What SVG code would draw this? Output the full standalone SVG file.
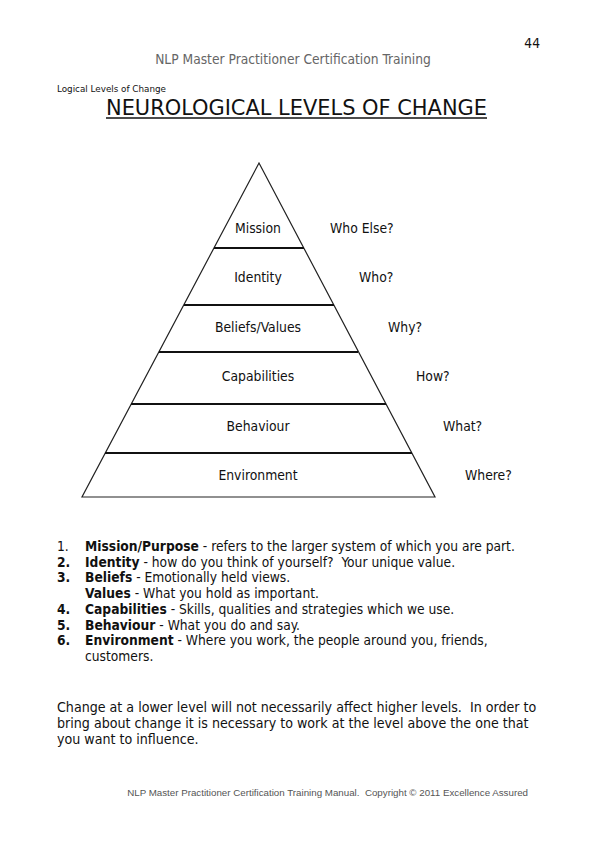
<svg xmlns="http://www.w3.org/2000/svg" width="595" height="841" viewBox="0 0 595 841">
<style>
.t{font-family:"DejaVu Sans","Liberation Sans",sans-serif;font-stretch:condensed;fill:#111}
.lbl{font-size:13.8px;text-anchor:middle}
.q{font-size:13.8px}
.body{font-size:13.7px}
.para{font-size:14.1px}
.b{font-weight:bold}
.hdr{font-family:"DejaVu Sans","Liberation Sans",sans-serif;font-stretch:condensed;font-size:13.7px;fill:#666}
.foot{font-family:"Liberation Sans",Arial,sans-serif;font-size:9.75px;fill:#555}
.edge{fill:none;stroke:#222;stroke-width:1.2}
.div{stroke:#111;stroke-width:2}
</style>
<rect width="595" height="841" fill="#fff"/>
<text class="t" x="540" y="48" text-anchor="end" font-size="13.7">44</text>
<text class="hdr" x="293" y="64" text-anchor="middle">NLP Master Practitioner Certification Training</text>
<text class="t" x="57" y="92" font-size="8.8" textLength="109" lengthAdjust="spacingAndGlyphs">Logical Levels of Change</text>
<text class="t" x="106" y="115" font-size="21.5" textLength="381" lengthAdjust="spacingAndGlyphs">NEUROLOGICAL LEVELS OF CHANGE</text>
<line x1="106" y1="118" x2="487" y2="118" stroke="#111" stroke-width="1.6"/>

<g id="pyramid">
<polygon class="edge" points="259,163 82,497 435,497"/>
</g>
<g id="dividers">
<line class="div" x1="214" y1="248" x2="304" y2="248"/>
<line class="div" x1="184" y1="305" x2="334" y2="305"/>
<line class="div" x1="159" y1="352" x2="358" y2="352"/>
<line class="div" x1="131" y1="404" x2="386" y2="404"/>
<line class="div" x1="105" y1="453" x2="412" y2="453"/>
</g>
<g id="level-mission"><text class="t lbl" x="258" y="233">Mission</text><text class="t q" x="330" y="233">Who Else?</text></g>
<g id="level-identity"><text class="t lbl" x="258" y="282">Identity</text><text class="t q" x="359" y="282">Who?</text></g>
<g id="level-beliefs"><text class="t lbl" x="258" y="332">Beliefs/Values</text><text class="t q" x="388" y="332">Why?</text></g>
<g id="level-capabilities"><text class="t lbl" x="258" y="381">Capabilities</text><text class="t q" x="416" y="381">How?</text></g>
<g id="level-behaviour"><text class="t lbl" x="258" y="431">Behaviour</text><text class="t q" x="443" y="431">What?</text></g>
<g id="level-environment"><text class="t lbl" x="258" y="480">Environment</text><text class="t q" x="465" y="480">Where?</text></g>

<g id="list">
<text class="t body" x="57" y="551">1.</text>
<text class="t body" x="85" y="551"><tspan class="b">Mission/Purpose</tspan> - refers to the larger system of which you are part.</text>
<text class="t body b" x="57" y="566.7">2.</text>
<text class="t body" x="85" y="566.7" xml:space="preserve"><tspan class="b">Identity</tspan> - how do you think of yourself?  Your unique value.</text>
<text class="t body b" x="57" y="582.4">3.</text>
<text class="t body" x="85" y="582.4"><tspan class="b">Beliefs</tspan> - Emotionally held views.</text>
<text class="t body" x="85" y="598.1"><tspan class="b">Values</tspan> - What you hold as important.</text>
<text class="t body b" x="57" y="613.8">4.</text>
<text class="t body" x="85" y="613.8"><tspan class="b">Capabilities</tspan> - Skills, qualities and strategies which we use.</text>
<text class="t body b" x="57" y="629.5">5.</text>
<text class="t body" x="85" y="629.5"><tspan class="b">Behaviour</tspan> - What you do and say.</text>
<text class="t body b" x="57" y="645.2">6.</text>
<text class="t body" x="85" y="645.2"><tspan class="b">Environment</tspan> - Where you work, the people around you, friends,</text>
<text class="t body" x="85" y="661">customers.</text>
</g>
<g id="paragraph">
<text class="t para" x="57" y="712" xml:space="preserve">Change at a lower level will not necessarily affect higher levels.  In order to</text>
<text class="t para" x="57" y="728">bring about change it is necessary to work at the level above the one that</text>
<text class="t para" x="57" y="744">you want to influence.</text>
</g>
<text class="foot" x="528" y="796" text-anchor="end" xml:space="preserve">NLP Master Practitioner Certification Training Manual.  Copyright © 2011 Excellence Assured</text>
</svg>
